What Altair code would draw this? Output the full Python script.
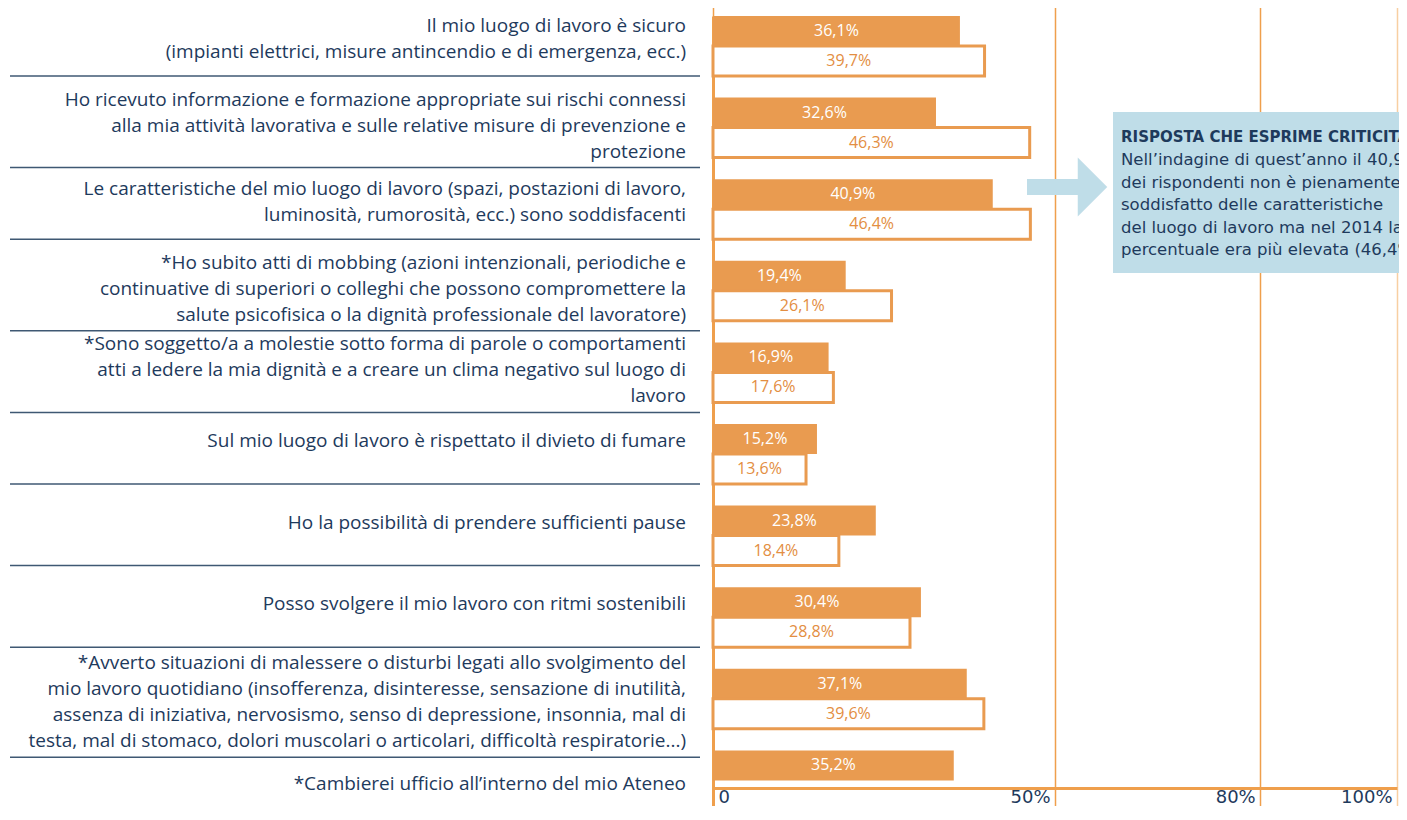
import altair as alt
import pandas as pd

# ---------------- data ----------------
categorie = [
    "Il mio luogo di lavoro è sicuro|(impianti elettrici, misure antincendio e di emergenza, ecc.)",
    "Ho ricevuto informazione e formazione appropriate sui rischi connessi|alla mia attività lavorativa e sulle relative misure di prevenzione e|protezione",
    "Le caratteristiche del mio luogo di lavoro (spazi, postazioni di lavoro,|luminosità, rumorosità, ecc.) sono soddisfacenti",
    "*Ho subito atti di mobbing (azioni intenzionali, periodiche e|continuative di superiori o colleghi che possono compromettere la|salute psicofisica o la dignità professionale del lavoratore)",
    "*Sono soggetto/a a molestie sotto forma di parole o comportamenti|atti a ledere la mia dignità e a creare un clima negativo sul luogo di|lavoro",
    "Sul mio luogo di lavoro è rispettato il divieto di fumare",
    "Ho la possibilità di prendere sufficienti pause",
    "Posso svolgere il mio lavoro con ritmi sostenibili",
    "*Avverto situazioni di malessere o disturbi legati allo svolgimento del|mio lavoro quotidiano (insofferenza, disinteresse, sensazione di inutilità,|assenza di iniziativa, nervosismo, senso di depressione, insonnia, mal di|testa, mal di stomaco, dolori muscolari o articolari, difficoltà respiratorie...)",
    "*Cambierei ufficio all’interno del mio Ateneo",
]
valori_attuale = [36.1, 32.6, 40.9, 19.4, 16.9, 15.2, 23.8, 30.4, 37.1, 35.2]
valori_2014 = [39.7, 46.3, 46.4, 26.1, 17.6, 13.6, 18.4, 28.8, 39.6, None]
serie = ["attuale", "2014"]
tick_valori = [0, 50, 80, 100]

annot_titolo = ["RISPOSTA CHE ESPRIME CRITICITÀ"]
annot_righe = [
    "Nell’indagine di quest’anno il 40,9%",
    "dei rispondenti non è pienamente",
    "soddisfatto delle caratteristiche",
    "del luogo di lavoro ma nel 2014 la",
    "percentuale era più elevata (46,4%).",
]

# ---------------- tables ----------------
rows = []
for c, a, b in zip(categorie, valori_attuale, valori_2014):
    rows.append({"cat": c, "serie": "attuale", "val": a})
    if b is not None:
        rows.append({"cat": c, "serie": "2014", "val": b})
df = pd.DataFrame(rows)
df_cat = pd.DataFrame({"cat": categorie, "idx": list(range(len(categorie)))})
df_tit = pd.DataFrame({"t": annot_titolo})
df_body = pd.DataFrame({"t": ["|".join(annot_righe)]})
df_one = pd.DataFrame({"k": [0]})

# ---------------- style ----------------
FONT = "Open Sans"
LFONT = "DejaVu Sans"
NAVY = "#1E3A5C"
ORANGE = "#E99B50"
AXIS_ORANGE = "#EF9F4C"
PEACH = "#F8CFA2"
TXT_ORANGE = "#E38E42"
BLUE = "#BFDDE8"
SEP = "#3F5873"
LINE_H = 26
BAND_W = 60          # bar pair height in px
LABEL_TOP = 17       # centre of a one-line label below band start
LABEL_STEP = 5.5     # extra downward shift per additional line
LAST_CENTRE = 34     # last row sits lower (single bar, below a 4-line label)
LAST = len(categorie) - 1

y_scale = alt.Scale(domain=categorie, range=[0, 794.4], paddingInner=0.265, paddingOuter=0)
y_axis = alt.Axis(labels=False, ticks=False, title=None, grid=False,
                  domainColor=AXIS_ORANGE, domainWidth=3)


def ydef(**kw):
    return alt.Y("cat:N", scale=y_scale, axis=y_axis, sort=None, **kw)


x_scale = alt.Scale(domain=[0, 100], nice=False, zero=True, range=[0, 684])
x_axis = alt.Axis(
    values=tick_valori, title=None, grid=True,
    gridColor={"condition": {"test": "datum.value == 100", "value": PEACH}, "value": AXIS_ORANGE},
    gridWidth=1.5,
    domainColor=AXIS_ORANGE, domainWidth=3,
    tickColor={"condition": {"test": "datum.value == 100", "value": PEACH}, "value": AXIS_ORANGE},
    tickSize=18, tickWidth=1.5,
    labelExpr="datum.value == 0 ? '0' : datum.value + '%'",
    labelAlign={"condition": {"test": "datum.value == 0", "value": "left"}, "value": "right"},
    labelOffset={"condition": {"test": "datum.value == 0", "value": 5}, "value": -5},
    labelBaseline="alphabetic", labelPadding=-4, labelFlush=False,
    labelFontSize=18, labelColor=NAVY, labelFont=LFONT,
)


def xdef(field):
    return alt.X(field, scale=x_scale, axis=x_axis)


yoff = alt.YOffset("serie:N", scale=alt.Scale(domain=serie))

base = alt.Chart(df)

bar_fill = base.transform_filter("datum.serie == 'attuale'").mark_bar(color=ORANGE).encode(
    x=xdef("val:Q"), y=ydef(), yOffset=yoff)

bar_outline = base.transform_filter("datum.serie == '2014'").mark_bar(
    fill="white", stroke=ORANGE, strokeWidth=3).encode(
    x=xdef("val:Q"), y=ydef(), yOffset=yoff)

bar_text = base.transform_calculate(
    mid="datum.val / 2",
    lab="replace(format(datum.val, '.1f'), '.', ',') + '%'",
).mark_text(align="center", baseline="middle", fontSize=16, font=FONT).encode(
    x=xdef("mid:Q"), y=ydef(), yOffset=yoff, text="lab:N",
    color=alt.Color("serie:N", scale=alt.Scale(domain=serie, range=["white", TXT_ORANGE]), legend=None),
)

# category labels (multi-line) and the separators below them
cat_base = alt.Chart(df_cat).transform_calculate(
    righe="split(datum.cat, '|')", n="length(split(datum.cat, '|'))"
)


def label_layer(filt, centre, k):
    return cat_base.transform_filter(filt).mark_text(
        align="right", baseline="middle", fontSize=19, lineHeight=LINE_H, font=FONT,
        color=NAVY, dy=centre - (k - 1) * LINE_H / 2,
    ).encode(y=ydef(bandPosition=0), x=alt.value(-27), text="righe:N")


label_layers = []
sep_layers = []
for k in range(1, 5):
    centre = LABEL_TOP + (k - 1) * LABEL_STEP
    label_layers.append(label_layer(f"datum.n == {k} && datum.idx < {LAST}", centre, k))
    sep = max(BAND_W, centre + (k - 1) * LINE_H / 2 + 16)
    sep_layers.append(
        cat_base.transform_filter(f"datum.n == {k} && datum.idx < {LAST}").mark_rule(
            color=SEP, strokeWidth=1.5
        ).encode(y=ydef(), yOffset=alt.value(sep),
                 x=alt.value(-703), x2=alt.value(-13))
    )
label_layers.append(label_layer(f"datum.idx == {LAST}", LAST_CENTRE, 1))

box = alt.Chart(df_one).mark_rect(color=BLUE).encode(
    x=alt.value(400), x2=alt.value(720), y=alt.value(96), y2=alt.value(257))
shaft = alt.Chart(df_one).mark_rect(color=BLUE).encode(
    x=alt.value(314), x2=alt.value(372), y=alt.value(163), y2=alt.value(179))
head = alt.Chart(df_one).mark_point(
    shape="M -0.5 -1 L 0.5 0 L -0.5 1 Z", filled=True, size=3481, color=BLUE, opacity=1, strokeWidth=0
).encode(x=alt.value(379.5), y=alt.value(171))

tit = alt.Chart(df_tit).mark_text(
    align="left", baseline="middle", fontSize=15, fontWeight="bold", font=LFONT, color=NAVY
).encode(x=alt.value(408), y=alt.value(121), text="t:N")

body = alt.Chart(df_body).transform_calculate(r="split(datum.t, '|')").mark_text(
    align="left", baseline="middle", fontSize=16.5, lineHeight=22.5, font=LFONT, color=NAVY
).encode(x=alt.value(408), y=alt.value(144), text="r:N")

chart = alt.layer(
    *sep_layers, *label_layers, bar_fill, bar_outline, bar_text, box, shaft, head, tit, body
).properties(
    width=686, height=772,
    padding={"left": 705, "top": 8, "right": 0, "bottom": 18},
    autosize="none",
    background="white",
).configure_view(stroke=None)

chart.save("out.html", embed_options={"renderer": "svg", "actions": False})
